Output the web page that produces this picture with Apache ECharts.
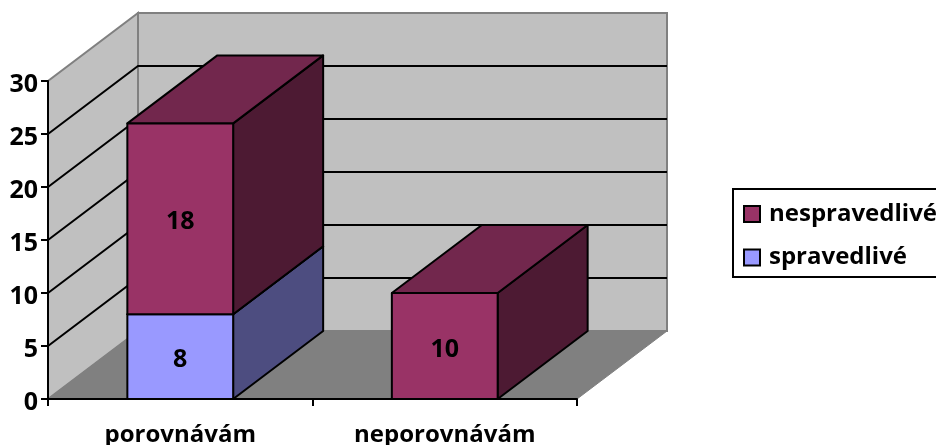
<!DOCTYPE html>
<html>
<head>
<meta charset="utf-8">
<style>
  html, body { margin: 0; padding: 0; background: #fff; overflow: hidden; }
  #chart { width: 936px; height: 445px; }
</style>
<script src="https://cdn.jsdelivr.net/npm/echarts@6/dist/echarts.min.js"></script>
</head>
<body>
<div id="chart"></div>
<script>
const categories = ["porovnávám", "neporovnávám"];
const spravedlive = [8, 0];
const nespravedlive = [18, 10];
const yTicks = [5, 10, 15, 20, 25, 30];

// pseudo-3D depth of the box, in pixels
const DEPTH_X = 90;
const DEPTH_Y = -68;
const FONT = '"Open Sans", sans-serif';

const chart = echarts.init(document.getElementById("chart"), null, { renderer: "canvas" });

const back = (p) => [p[0] + DEPTH_X, p[1] + DEPTH_Y];

// walls, floor and gridlines hang off the axis scales
const renderWalls = (params, api) => {
  const band = api.size([1, 0])[0];
  const x0 = api.coord([0, 0])[0] - band / 2;
  const x1 = api.coord([categories.length - 1, 0])[0] + band / 2;
  const y0 = api.coord([0, 0])[1];
  const yTop = api.coord([0, 30])[1];
  const a = [x0, y0], b = [x1, y0], c = [x0, yTop];
  const wall = { fill: "#c0c0c0", stroke: "#808080", lineWidth: 2 };
  const children = [
    { type: "polygon", shape: { points: [a, back(a), back(c), c] }, style: wall },
    { type: "polygon", shape: { points: [back(a), back(b), [back(b)[0], back(c)[1]], back(c)] }, style: wall },
    { type: "polygon", shape: { points: [a, b, back(b), back(a)] }, style: { fill: "#808080", stroke: "#808080", lineWidth: 1 } },
  ];
  yTicks.filter((t) => t < 30).forEach((t) => {
    const y = api.coord([0, t])[1];
    children.push({
      type: "polyline",
      shape: { points: [[x0, y], back([x0, y]), back([x1, y])] },
      style: { stroke: "#000", lineWidth: 2, fill: null },
    });
  });
  return { type: "group", children };
};

const barRenderer = (front, top, side) => (params, api) => {
  const cat = api.value(0);
  const from = api.value(1);
  const to = api.value(2);
  if (to <= from) return null;
  const half = api.size([1, 0])[0] * 0.2;
  const cx = api.coord([cat, 0])[0];
  const yA = api.coord([cat, from])[1];
  const yB = api.coord([cat, to])[1];
  const bl = [cx - half, yA], br = [cx + half, yA], tl = [cx - half, yB], tr = [cx + half, yB];
  const edge = { stroke: "#000", lineWidth: 2, lineJoin: "round" };
  return {
    type: "group",
    children: [
      { type: "polygon", shape: { points: [br, back(br), back(tr), tr] }, style: { fill: side, ...edge } },
      { type: "polygon", shape: { points: [tl, tr, back(tr), back(tl)] }, style: { fill: top, ...edge } },
      { type: "polygon", shape: { points: [bl, br, tr, tl] }, style: { fill: front, ...edge } },
      {
        type: "text",
        style: {
          x: cx,
          y: (yA + yB) / 2 + 3.5,
          text: String(to - from),
          font: `bold 25px ${FONT}`,
          fill: "#000",
          textAlign: "center",
          textVerticalAlign: "middle",
        },
      },
    ],
  };
};

const lowerData = categories.map((c, i) => [i, 0, spravedlive[i]]);
const upperData = categories.map((c, i) => [i, spravedlive[i], spravedlive[i] + nespravedlive[i]]);

chart.setOption({
  animation: false,
  backgroundColor: "#fff",
  grid: { left: 48, top: 81, width: 529, height: 318, outerBoundsMode: "none" },
  legend: {
    left: 733,
    top: 189,
    orient: "vertical",
    data: ["nespravedlivé", "spravedlivé"],
    icon: "rect",
    itemWidth: 16,
    itemHeight: 16,
    itemGap: 19.5,
    padding: [13, 12, 7.5, 10],
    borderColor: "#000",
    borderWidth: 2,
    backgroundColor: "#fff",
    selectedMode: false,
    textStyle: { fontFamily: FONT, fontWeight: "bold", fontSize: 24, color: "#000", padding: [9, 0, 0, 4] },
  },
  xAxis: {
    type: "category",
    data: categories,
    z: 5,
    axisLine: { lineStyle: { color: "#000", width: 2 } },
    axisTick: { show: true, length: 7, alignWithLabel: false, lineStyle: { color: "#000", width: 2 } },
    axisLabel: { fontFamily: FONT, fontWeight: "bold", fontSize: 24, color: "#000", margin: 24, interval: 0 },
    splitLine: { show: false },
  },
  yAxis: {
    type: "value",
    min: 0,
    max: 30,
    interval: 5,
    z: 5,
    axisLine: { show: true, lineStyle: { color: "#000", width: 2 } },
    axisTick: { show: true, length: 7, lineStyle: { color: "#000", width: 2 } },
    axisLabel: { fontFamily: FONT, fontWeight: "bold", fontSize: 25, color: "#000", margin: 10, verticalAlign: "top", lineHeight: 8 },
    splitLine: { show: false },
  },
  series: [
    { type: "custom", name: "walls", z: 1, silent: true, clip: false, renderItem: renderWalls, data: [[0, 0]], encode: { x: 0, y: 1 } },
    {
      type: "custom",
      name: "spravedlivé",
      z: 2,
      silent: true,
      clip: false,
      itemStyle: { color: "#9999ff", borderColor: "#000", borderWidth: 2 },
      renderItem: barRenderer("#9999ff", "#7373bf", "#4d4d80"),
      data: lowerData,
      encode: { x: 0, y: [1, 2] },
    },
    {
      type: "custom",
      name: "nespravedlivé",
      z: 3,
      silent: true,
      clip: false,
      itemStyle: { color: "#993366", borderColor: "#000", borderWidth: 2 },
      renderItem: barRenderer("#993366", "#72274d", "#4d1a33"),
      data: upperData,
      encode: { x: 0, y: [1, 2] },
    },
  ],
});
</script>
</body>
</html>
